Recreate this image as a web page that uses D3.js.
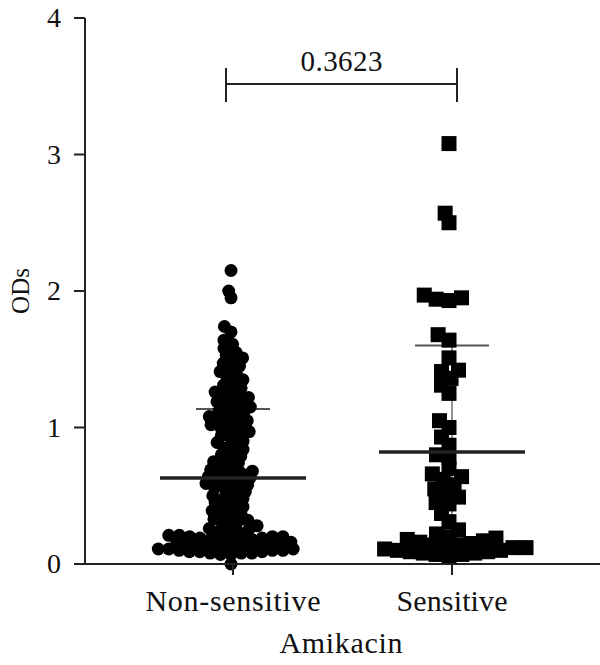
<!DOCTYPE html>
<html>
<head>
<meta charset="utf-8">
<script src="https://cdn.jsdelivr.net/npm/d3@7/dist/d3.min.js"></script>
<style>
  html, body { margin: 0; padding: 0; background: #fff; }
  svg { display: block; }
  text { font-family: "Liberation Serif", "DejaVu Serif", serif; fill: #111; }
</style>
</head>
<body>
<svg id="chart" width="600" height="665"></svg>
<script>
// ---- data ----
const categories = ["Non-sensitive", "Sensitive"];
const yTicks = [0, 1, 2, 3, 4];
const nonSensitive = [
  2.15, 2.00, 1.95,
  1.74, 1.70, 1.64, 1.61, 1.58,
  1.55, 1.53, 1.51, 1.49, 1.47, 1.45, 1.43, 1.41, 1.39, 1.37, 1.35, 1.33, 1.31, 1.29, 1.27,
  1.26, 1.24, 1.23, 1.22, 1.20, 1.19, 1.18, 1.16, 1.15, 1.14, 1.12, 1.11,
  1.10, 1.08, 1.07, 1.06, 1.05,
  1.04, 1.02, 1.01, 1.00, 0.99, 0.97, 0.95, 0.94, 0.92, 0.90, 0.89, 0.87, 0.85,
  0.84, 0.82, 0.80, 0.79, 0.77, 0.75, 0.74, 0.72, 0.70,
  0.69, 0.68, 0.67, 0.66, 0.65, 0.64, 0.63, 0.62, 0.61, 0.60, 0.59, 0.58, 0.57, 0.56, 0.55,
  0.53, 0.52, 0.50, 0.49, 0.48, 0.46, 0.45, 0.43, 0.42, 0.40, 0.39, 0.38, 0.36, 0.35, 0.33,
  0.32, 0.31, 0.30, 0.28, 0.27, 0.26, 0.25, 0.24, 0.23,
  0.22, 0.21, 0.21, 0.20, 0.20, 0.20, 0.19, 0.19, 0.18, 0.18, 0.18, 0.17, 0.17, 0.16, 0.16,
  0.15, 0.15, 0.15, 0.14, 0.14, 0.13, 0.13, 0.13, 0.12, 0.12, 0.11, 0.11, 0.11, 0.10,
  0.10, 0.10, 0.09, 0.09, 0.09, 0.08, 0.08, 0.08, 0.07, 0.07,
  0.00
];
const sensitive = [
  3.08, 2.57, 2.50, 1.97, 1.95, 1.94, 1.93, 1.68, 1.64, 1.51, 1.42, 1.41, 1.36, 1.31, 1.25,
  1.05, 1.00, 0.93, 0.87, 0.80, 0.78, 0.70, 0.66, 0.64, 0.62, 0.58, 0.55, 0.52, 0.49,
  0.45, 0.44, 0.37, 0.31, 0.25, 0.22, 0.20, 0.19, 0.18, 0.17, 0.16, 0.15, 0.14, 0.14,
  0.13, 0.12, 0.12, 0.11, 0.10, 0.10, 0.09, 0.09, 0.08, 0.08, 0.07, 0.07, 0.06
];
const means = [0.63, 0.82];
const sdLow = [0.125, 0.04];
const sdHigh = [1.135, 1.60];
const pValueLabel = "0.3623";
const yTitle = "ODs";
const xTitle = "Amikacin";

// ---- layout ----
const svg = d3.select("#chart");
const axisX = 85, baseY = 564, topY = 18;
const y = d3.scaleLinear().domain([0, 4]).range([baseY, topY]);
const x = d3.scalePoint().domain(categories).range([233, 452]);

// anisotropic beeswarm: points must keep dxMin apart horizontally or dyMin vertically
function swarm(values, dxMin, dyMin) {
  const placed = [];
  const order = values.map((v, i) => i).sort((a, b) => values[a] - values[b]);
  const out = new Array(values.length);
  const ok = (cx, py) => placed.every(p => {
    const dy = (p.y - py) / dyMin, dx = (p.x - cx) / dxMin;
    return dx * dx + dy * dy >= 0.999;
  });
  order.forEach(i => {
    const py = y(values[i]);
    const near = placed.filter(p => Math.abs(p.y - py) < dyMin);
    const cands = [0];
    near.forEach(p => {
      const t = (p.y - py) / dyMin;
      const dx = dxMin * Math.sqrt(1 - t * t);
      cands.push(p.x + dx, p.x - dx);
    });
    cands.sort((a, b) => Math.abs(a) - Math.abs(b) || a - b);
    let best = 0;
    for (const c of cands) { if (ok(c, py)) { best = c; break; } }
    placed.push({ x: best, y: py });
    out[i] = best;
  });
  return out;
}

// error bars (behind points)
const groups = svg.append("g");
categories.forEach((c, i) => {
  const cx = x(c);
  groups.append("line").attr("x1", cx).attr("x2", cx)
    .attr("y1", y(Math.max(0, sdLow[i]))).attr("y2", y(sdHigh[i]))
    .attr("stroke", "#777").attr("stroke-width", 1.6);
  groups.append("line").attr("x1", cx - 37).attr("x2", cx + 37)
    .attr("y1", y(sdHigh[i])).attr("y2", y(sdHigh[i]))
    .attr("stroke", "#555").attr("stroke-width", 2);
});

// points
const nsOff = swarm(nonSensitive, 10.5, 7);
svg.append("g").selectAll("circle").data(nonSensitive).join("circle")
  .attr("cx", (d, i) => x(categories[0]) - 2 + nsOff[i])
  .attr("cy", d => y(d))
  .attr("r", 6.5)
  .attr("fill", "#000");

const sOff = swarm(sensitive, 13, 10);
const sq = 15;
svg.append("g").selectAll("rect").data(sensitive).join("rect")
  .attr("x", (d, i) => x(categories[1]) - 3 + sOff[i] - sq / 2)
  .attr("y", d => y(d) - sq / 2)
  .attr("width", sq).attr("height", sq)
  .attr("fill", "#000");

// mean lines
categories.forEach((c, i) => {
  const cx = x(c);
  svg.append("line").attr("x1", cx - 73).attr("x2", cx + 73)
    .attr("y1", y(means[i])).attr("y2", y(means[i]))
    .attr("stroke", "#222").attr("stroke-width", 3.5);
});

// y axis
const yAxis = svg.append("g");
yAxis.append("line").attr("x1", axisX).attr("x2", axisX)
  .attr("y1", topY).attr("y2", baseY).attr("stroke", "#222").attr("stroke-width", 2);
yTicks.forEach(t => {
  yAxis.append("line").attr("x1", axisX - 11).attr("x2", axisX)
    .attr("y1", y(t)).attr("y2", y(t)).attr("stroke", "#222").attr("stroke-width", 2);
  yAxis.append("text").attr("x", 61).attr("y", y(t) + 9)
    .attr("text-anchor", "end").attr("font-size", 28).text(t);
});

// x axis
const xAxis = svg.append("g");
xAxis.append("line").attr("x1", 74).attr("x2", 600)
  .attr("y1", baseY).attr("y2", baseY).attr("stroke", "#222").attr("stroke-width", 2);
const catWidths = [175, 111];
categories.forEach((c, i) => {
  xAxis.append("line").attr("x1", x(c)).attr("x2", x(c))
    .attr("y1", baseY).attr("y2", baseY + 11).attr("stroke", "#222").attr("stroke-width", 2);
  xAxis.append("text").attr("x", x(c)).attr("y", 611)
    .attr("text-anchor", "middle").attr("font-size", 30)
    .attr("textLength", catWidths[i]).attr("lengthAdjust", "spacing").text(c);
});

svg.append("text").attr("x", 341).attr("y", 653)
  .attr("text-anchor", "middle").attr("font-size", 30)
  .attr("textLength", 123).attr("lengthAdjust", "spacing").text(xTitle);

svg.append("text").attr("transform", "translate(29,291) rotate(-90)")
  .attr("text-anchor", "middle").attr("font-size", 25).text(yTitle);

// significance bracket
const br = svg.append("g").attr("stroke", "#222").attr("stroke-width", 2);
const bx1 = x(categories[0]) - 7, bx2 = x(categories[1]) + 5, by = 84;
br.append("line").attr("x1", bx1).attr("x2", bx2).attr("y1", by).attr("y2", by);
br.append("line").attr("x1", bx1).attr("x2", bx1).attr("y1", by - 16).attr("y2", by + 18);
br.append("line").attr("x1", bx2).attr("x2", bx2).attr("y1", by - 16).attr("y2", by + 18);
svg.append("text").attr("x", (bx1 + bx2) / 2).attr("y", 71)
  .attr("text-anchor", "middle").attr("font-size", 29)
  .attr("textLength", 82).attr("lengthAdjust", "spacing").text(pValueLabel);
</script>
</body>
</html>
